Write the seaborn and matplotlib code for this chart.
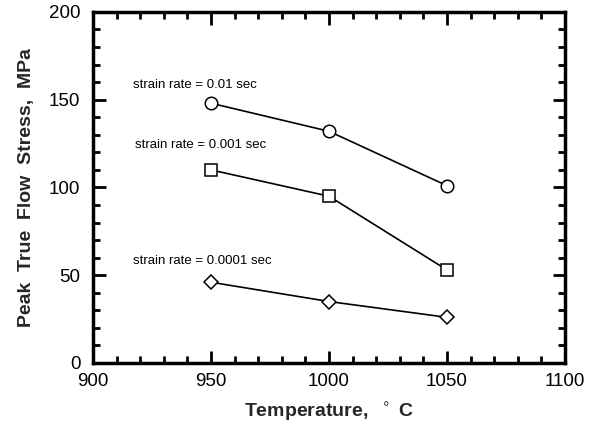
import matplotlib
matplotlib.use("Agg")
import matplotlib.pyplot as plt
import seaborn as sns
import pandas as pd
from matplotlib.ticker import MultipleLocator

temperature = [950, 1000, 1050]
stress_001 = [148, 132, 101]
stress_0001 = [110, 95, 53]
stress_00001 = [46, 35, 26]
series_labels = ["strain rate = 0.01 sec", "strain rate = 0.001 sec", "strain rate = 0.0001 sec"]
label_pos = [(917, 158.5), (918, 124), (917, 58)]
markers = ["o", "s", "D"]
marker_sizes = [9, 8.5, 7]

sns.set_theme(style="ticks")
plt.rcParams['font.family'] = ['Liberation Sans', 'DejaVu Sans']

fig = plt.figure(figsize=(5.9, 4.26), dpi=100)
ax = fig.add_axes([0.1576, 0.148, 0.8, 0.824])

for vals, m, ms in zip([stress_001, stress_0001, stress_00001], markers, marker_sizes):
    df = pd.DataFrame({"T": temperature, "S": vals})
    sns.lineplot(data=df, x="T", y="S", ax=ax, color="black", linewidth=1.2,
                 marker=m, markersize=ms, markerfacecolor="white",
                 markeredgecolor="black", markeredgewidth=1.1)

for lab, (x, y) in zip(series_labels, label_pos):
    ax.text(x, y, lab, fontsize=9.5, va="center", ha="left", color="black")

ax.set_xlim(900, 1100)
ax.set_ylim(0, 200)
ax.xaxis.set_major_locator(MultipleLocator(50))
ax.xaxis.set_minor_locator(MultipleLocator(10))
ax.yaxis.set_major_locator(MultipleLocator(50))
ax.yaxis.set_minor_locator(MultipleLocator(10))
ax.tick_params(which="both", direction="in", top=True, right=True, color="black",
               labelsize=13.5, labelcolor="black")
ax.tick_params(which="major", length=9, width=2)
ax.tick_params(which="minor", length=5, width=2)
ax.tick_params(axis="x", which="major", pad=7)
ax.tick_params(axis="y", which="major", pad=9)
for s in ax.spines.values():
    s.set_linewidth(2.5)
    s.set_color("black")

ax.set_xlabel("Temperature,  $^\\circ$ C", fontsize=14, fontweight="bold", labelpad=8)
ax.set_ylabel("Peak  True  Flow  Stress,  MPa", fontsize=14, fontweight="bold", labelpad=10)

fig.savefig("out.png", dpi=100)
